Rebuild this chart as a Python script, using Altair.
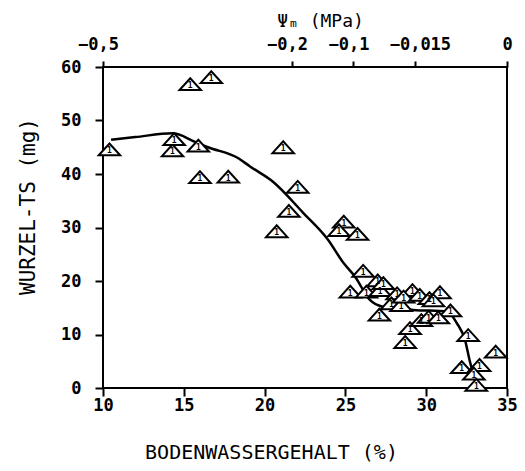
import altair as alt
import pandas as pd

# Measured points (soil water content %, root dry weight mg)
water = [10.4, 14.3, 14.4, 15.4, 16.7, 15.9, 16.0, 17.75, 21.15, 22.05, 21.5, 20.75,
         24.9, 24.6, 25.75, 26.1, 27.0, 25.3, 26.3, 27.15, 27.35, 28.2, 29.15, 27.85,
         28.45, 28.6, 29.6, 30.2, 30.85, 30.45, 31.5, 27.1, 29.0, 29.7, 30.15, 30.75,
         28.7, 32.6, 34.3, 32.2, 33.3, 32.95, 33.1]
root = [44.6, 44.4, 46.5, 56.8, 58.1, 45.3, 39.4, 39.5, 45.0, 37.6, 33.1, 29.3,
        31.1, 29.5, 28.8, 21.9, 20.1, 18.0, 18.0, 18.3, 19.6, 17.7, 18.3, 15.8,
        15.5, 17.1, 17.4, 16.8, 17.9, 16.4, 14.5, 13.7, 11.2, 12.7, 13.3, 13.2,
        8.6, 9.9, 6.8, 3.9, 4.3, 2.7, 0.6]
labels = ["1"] * len(water)

# Fitted curve
curve_x = [10.5, 12.0, 14.3, 15.7, 16.5, 18.4, 19.1, 20.5, 22.4, 23.9, 24.9, 25.6,
           26.5, 27.3, 28.5, 29.2, 31.3, 31.9, 32.4, 32.7, 33.0, 33.2]
curve_y = [46.4, 46.9, 47.6, 46.0, 45.0, 42.9, 41.4, 38.6, 32.7, 27.8, 23.3, 20.8,
           16.5, 15.2, 14.8, 14.6, 14.3, 12.1, 9.0, 5.0, 1.8, 0.3]

# Top axis (matric potential)
psi_pos = [10, 21.7, 25.5, 29.3, 35]
psi_lab = ["−0,5", "−0,2", "−0,1", "−0,015", "0"]

# Axis ticks
x_ticks = [10, 15, 20, 25, 30, 35]
y_ticks = [0, 10, 20, 30, 40, 50, 60]

pts = pd.DataFrame({"w": water, "r": root, "lab": labels})
crv = pd.DataFrame({"w": curve_x, "r": curve_y})

FONT = "DejaVu Sans Mono"
xscale = alt.Scale(domain=[10, 35], nice=False, zero=False)
yscale = alt.Scale(domain=[0, 60], nice=False)

lab_expr = " : ".join(
    f"datum.value == {p} ? '{l}'" for p, l in zip(psi_pos[:-1], psi_lab[:-1])
) + f" : '{psi_lab[-1]}'"

top_axis = alt.Axis(
    orient="top", values=psi_pos, labelExpr=lab_expr, title="Ψₘ (MPa)",
    titleFont=FONT, titleFontSize=18, titleFontWeight="normal",
    titleX=217, titleY=-46, titleAlign="center", titleBaseline="middle",
    labelFont=FONT, labelFontSize=17, labelFontWeight="bold", labelPadding=8,
    labelOffset={"condition": [{"test": "datum.value > 34", "value": 0},
                               {"test": "datum.value > 28", "value": 5}],
                 "value": -5},
    tickSize=6, grid=False, domain=False, labelFlush=False, labelOverlap=False,
)
bottom_axis = alt.Axis(
    orient="bottom", values=x_ticks, title="BODENWASSERGEHALT (%)",
    titleFont=FONT, titleFontSize=20, titleFontWeight="normal",
    titleX=168, titleY=64, titleAlign="center", titleBaseline="middle",
    labelFont=FONT, labelFontSize=17, labelFontWeight="bold", labelPadding=1,
    tickSize=8, grid=False, domain=False, labelFlush=False,
)
left_axis = alt.Axis(
    orient="left", values=y_ticks, title="WURZEL-TS (mg)",
    titleFont=FONT, titleFontSize=21, titleFontWeight="normal",
    titleX=-75, titleY=139, titleAlign="center", titleBaseline="middle",
    labelFont=FONT, labelFontSize=17, labelFontWeight="bold", labelPadding=14,
    tickSize=8, grid=False, domain=False, labelFlush=False,
)

line = alt.Chart(crv).mark_line(color="black", strokeWidth=2.5, interpolate="monotone").encode(
    x=alt.X("w:Q", scale=xscale, axis=top_axis),
    y=alt.Y("r:Q", scale=yscale, axis=left_axis),
)

tri = alt.Chart(pts).mark_point(
    shape="M -1 0.55 L 0 -0.55 L 1 0.55 Z", size=460, filled=True,
    fill="white", stroke="black", strokeWidth=2, opacity=1,
).encode(
    x=alt.X("w:Q", scale=xscale, axis=bottom_axis),
    y=alt.Y("r:Q", scale=yscale, axis=None),
)

txt = alt.Chart(pts).mark_text(
    font=FONT, fontSize=8, fontWeight="bold", color="black", dy=2, baseline="middle",
).encode(
    x=alt.X("w:Q", scale=xscale, axis=None),
    y=alt.Y("r:Q", scale=yscale, axis=None),
    text="lab:N",
)

chart = alt.layer(line, tri, txt).resolve_axis(x="independent", y="independent").properties(
    width=404, height=321,
    padding={"left": 95, "top": 59, "right": 10, "bottom": 75},
    autosize=alt.AutoSizeParams(type="none"),
).configure_view(stroke="black", strokeWidth=2).configure_axis(
    domainColor="black", tickColor="black", labelColor="black", titleColor="black", tickWidth=2,
)

chart.save("out.html", embed_options={"renderer": "svg", "actions": False})
